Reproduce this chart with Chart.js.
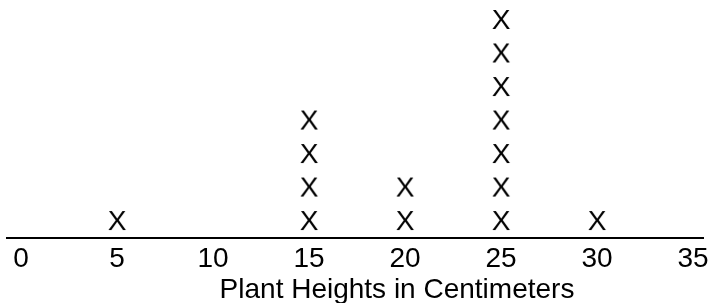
<!DOCTYPE html>
<html>
<head>
<meta charset="utf-8">
<script src="https://cdn.jsdelivr.net/npm/chart.js@4/dist/chart.umd.min.js"></script>
<style>
  html, body { margin: 0; padding: 0; background: #fff; }
  #wrap { width: 709px; height: 303px; position: relative; }
</style>
</head>
<body>
<div id="wrap"><canvas id="c"></canvas></div>
<script>
// 線グラフ（ドットプロット）: 植物の高さ
const heights = [5, 15, 20, 25, 30];
const counts  = [1, 4, 2, 7, 1];
const tickValues = [0, 5, 10, 15, 20, 25, 30, 35];
const axisTitle = "Plant Heights in Centimeters";

const FONT = '"Liberation Sans", Arial, sans-serif';

// X 印を画像にしてポイントスタイルに使う
function makeMark() {
  const cv = document.createElement("canvas");
  cv.width = 26; cv.height = 30;
  const g = cv.getContext("2d");
  g.fillStyle = "#000";
  g.font = "28px " + FONT;
  g.textAlign = "center";
  g.textBaseline = "alphabetic";
  g.fillText("X", 13, 15 + 10);
  return cv;
}

const points = [];
heights.forEach((h, i) => {
  for (let k = 1; k <= counts[i]; k++) points.push({ x: h, y: k });
});

const titlePlugin = {
  id: "axisTitle",
  afterDraw(chart) {
    const ctx = chart.ctx;
    ctx.save();
    ctx.fillStyle = "#000";
    ctx.font = "28px " + FONT;
    ctx.textAlign = "center";
    ctx.textBaseline = "alphabetic";
    ctx.fillText(axisTitle, 397, 298);
    ctx.restore();
  }
};

const noPad = s => { s.paddingLeft = 0; s.paddingRight = 0; s.paddingTop = 0; s.paddingBottom = 0; };

new Chart(document.getElementById("c"), {
  type: "scatter",
  data: {
    datasets: [{
      data: points,
      pointStyle: makeMark(),
      pointRadius: 10,
      pointHoverRadius: 10,
      clip: false,
    }],
  },
  plugins: [titlePlugin],
  options: {
    responsive: true,
    maintainAspectRatio: false,
    animation: false,
    events: [],
    layout: { autoPadding: false, padding: { left: 7, right: 6, top: 0, bottom: 0 } },
    scales: {
      x: {
        type: "linear",
        min: -0.73,
        max: 35.52,
        afterBuildTicks: s => { s.ticks = tickValues.map(v => ({ value: v })); },
        afterFit: s => { s.height = 65; noPad(s); },
        grid: { display: false, drawTicks: false },
        border: { display: true, color: "#000", width: 2 },
        ticks: {
          color: "#000",
          padding: 4,
          maxRotation: 0,
          autoSkip: false,
          font: { family: FONT, size: 28 },
        },
      },
      y: {
        display: false,
        min: 0.463,
        max: 7.567,
        afterFit: noPad,
      },
    },
    plugins: {
      legend: { display: false },
      tooltip: { enabled: false },
    },
  },
});
</script>
</body>
</html>
